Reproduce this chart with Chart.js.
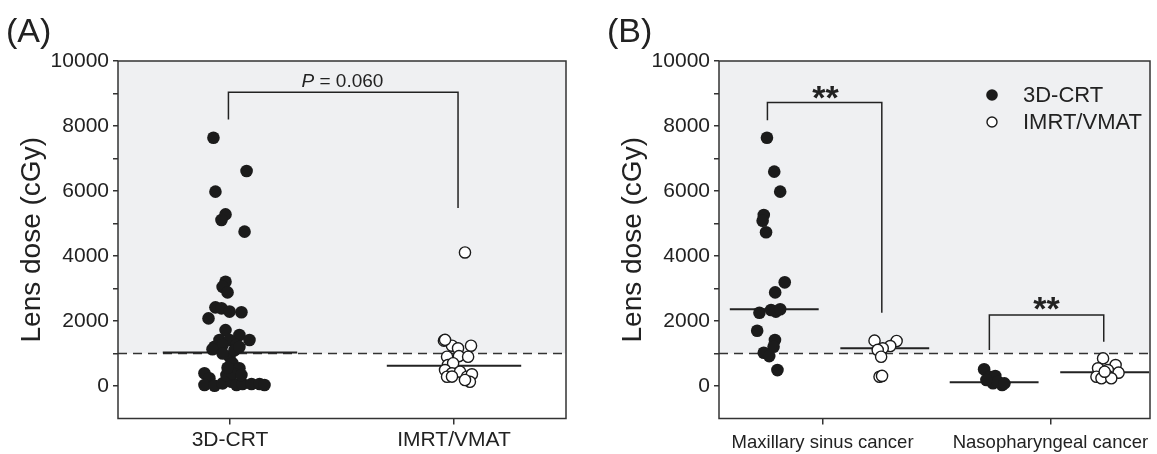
<!DOCTYPE html>
<html>
<head>
<meta charset="utf-8">
<script src="https://cdn.jsdelivr.net/npm/chart.js@4"></script>
<style>
  html, body { margin: 0; padding: 0; background: #fff; }
  #wrap { position: relative; width: 1157px; height: 454px; }
  #chartA { position: absolute; left: 0; top: 0; }
  #chartB { position: absolute; left: 590px; top: 0; }
</style>
</head>
<body>
<div id="wrap">
  <canvas id="chartA" width="590" height="454"></canvas>
  <canvas id="chartB" width="567" height="454"></canvas>
</div>
<script>
// --- DATA ---
const yTicks = [0, 2000, 4000, 6000, 8000, 10000];
const yMinorTicks = [0, 1000, 2000, 3000, 4000, 5000, 6000, 7000, 8000, 9000, 10000];
const cutoffDose = 1000;

// (A) all patients, x = category + jitter
const groupsA = ['3D-CRT', 'IMRT/VMAT'];
const crtDoseA = [7640, 6615, 5980, 5280, 5110, 4750, 3210, 3050, 2880, 2420, 2390, 2290, 2270, 2080, 1720,
  1570, 1415, 1415, 1415, 1210, 1260, 1260, 1130, 900, 1000, 700, 545, 390, 237, 30, 10, 80, 130, 30, 60,
  60, 60, 30, 340, 390, 340, 560, 1100, 1200];
const crtJitterA = [-0.074, 0.074, -0.065, -0.020, -0.038, 0.065, -0.020, -0.033, -0.011, -0.065, -0.038, -0.002, 0.051, -0.096, -0.020,
  0.042, 0.087, -0.047, -0.002, -0.069, -0.033, 0.029, -0.078, -0.002, -0.033, 0.011, 0.042, -0.114, -0.092, -0.114, -0.069, -0.033, 0.007, 0.029, 0.056,
  0.096, 0.132, 0.154, -0.016, 0.011, 0.051, -0.011, 0.020, 0.042];
const imrtDoseA = [4110, 1395, 1240, 1160, 1240, 900, 920, 900, 645, 700, 490, 390, 285, 440, 285, 360, 130, 185, 290, 1420];
const imrtJitterA = [0.049, -0.045, -0.009, 0.018, 0.076, -0.031, 0.022, 0.063, -0.027, -0.004, -0.040, -0.009, -0.031, 0.027, 0.058, 0.080, 0.071, 0.049, -0.009, -0.040];
const mediansA = [1030, 625];
const pValueA = '0.060';

// (B) by cancer site, x = category + offset
const sitesB = ['Maxillary sinus cancer', 'Nasopharyngeal cancer'];
const maxCrtDose = [7640, 6595, 5980, 5260, 5085, 4730, 3190, 2880, 2255, 2340, 2290, 2360, 1700, 1415, 1210, 1025, 920, 490];
const maxCrtX = [-0.244, -0.212, -0.186, -0.258, -0.263, -0.248, -0.166, -0.208, -0.277, -0.226, -0.205, -0.186, -0.287, -0.209, -0.215, -0.258, -0.234, -0.198];
const maxImrtDose = [1395, 1385, 1230, 1160, 1110, 900, 285, 310];
const maxImrtX = [0.228, 0.325, 0.297, 0.264, 0.242, 0.257, 0.250, 0.261];
const nasoCrtDose = [515, 285, 310, 85, 30, 130, 185, 80];
const nasoCrtX = [-0.291, -0.267, -0.242, -0.252, -0.212, -0.231, -0.281, -0.202];
const nasoImrtDose = [850, 545, 645, 490, 285, 310, 410, 237, 237, 440];
const nasoImrtX = [0.231, 0.209, 0.286, 0.252, 0.202, 0.252, 0.299, 0.224, 0.267, 0.238];
const mediansCrtB = [2360, 114];
const mediansImrtB = [1160, 420];
const medianCrtXB = [-0.212, -0.247];
const medianImrtXB = [0.273, 0.238];

// brackets: [xLeft, xRight, leftEnd, top, rightEnd]
const bracketA = [0.993, 2.018, 8200, 9040, 5480];
const bracketsB = [[0.758, 1.260, 8180, 8720, 2255], [1.732, 2.234, 1108, 2185, 1363]];

// --- HELPERS ---
const font = "'Liberation Sans', Arial, Helvetica, sans-serif";
const ink = '#222';

function pts(base, offsets, doses) {
  return doses.map((d, i) => ({ x: base + offsets[i], y: d }));
}
function dots(data, open) {
  return {
    type: 'scatter', data, order: 0,
    pointRadius: open ? 5.6 : 6.3, pointHoverRadius: open ? 5.6 : 6.3,
    pointBorderWidth: open ? 1.4 : 0,
    backgroundColor: open ? '#fff' : '#1b1b1b', borderColor: '#1b1b1b'
  };
}
function line(data, width, dash, order) {
  return {
    type: 'line', data, order, showLine: true, pointRadius: 0, fill: false,
    borderColor: dash ? '#333' : ink, borderWidth: width, borderDash: dash || [], tension: 0
  };
}
function median(cx, half, v) { return line([{ x: cx - half, y: v }, { x: cx + half, y: v }], 2, null, 1); }
function bracket(b) {
  return line([{ x: b[0], y: b[2] }, { x: b[0], y: b[3] }, { x: b[1], y: b[3] }, { x: b[1], y: b[4] }], 1.5, null, 2);
}

function makeScales(xMin, xMax, labels, xFont, xPad, yWidth, titlePad) {
  return {
    x: {
      type: 'linear', min: xMin, max: xMax,
      afterBuildTicks: s => { s.ticks = labels.map((_, i) => ({ value: i + 1 })); },
      afterFit: s => { s.height = 35.5; },
      ticks: { callback: v => labels[v - 1], font: { family: font, size: xFont }, color: ink, padding: xPad, maxRotation: 0, autoSkip: false },
      grid: { drawOnChartArea: false, tickLength: 6, color: '#333', lineWidth: 1.5 },
      border: { display: false }
    },
    y: {
      type: 'linear', min: -1000, max: 10000,
      afterBuildTicks: s => { s.ticks = yMinorTicks.map(v => ({ value: v })); },
      afterFit: s => { s.width = yWidth; },
      ticks: { callback: v => yTicks.includes(v) ? String(v) : '', font: { family: font, size: 21 }, color: ink, padding: 4, autoSkip: false },
      grid: { drawOnChartArea: false, tickLength: 5, color: '#333', lineWidth: 1.5 },
      border: { display: false },
      title: { display: true, text: 'Lens dose (cGy)', font: { family: font, size: 28, lineHeight: 1.2 }, color: ink, padding: { top: titlePad, bottom: 0 } }
    }
  };
}

// shaded region above the cutoff, frame, panel tag, notes, legend
const panelPlugin = {
  id: 'panel',
  beforeDatasetsDraw(chart) {
    const { ctx, chartArea: a, scales: { y } } = chart;
    const yc = y.getPixelForValue(cutoffDose);
    ctx.save();
    ctx.fillStyle = '#eff0f2';
    ctx.fillRect(a.left, a.top, a.right - a.left, yc - a.top);
    ctx.restore();
  },
  afterDraw(chart, args, o) {
    const { ctx, chartArea: a, scales: { x, y } } = chart;
    ctx.save();
    ctx.strokeStyle = '#333';
    ctx.lineWidth = 1.5;
    ctx.strokeRect(a.left, a.top, a.right - a.left, a.bottom - a.top);
    ctx.fillStyle = ink;
    ctx.textBaseline = 'alphabetic';
    ctx.textAlign = 'left';
    ctx.font = `34px ${font}`;
    ctx.fillText(o.tag, o.tagX, 42);

    if (o.pNote) {
      const n = o.pNote;
      ctx.font = `italic 19px ${font}`;
      const w1 = ctx.measureText('P').width;
      ctx.font = `19px ${font}`;
      const rest = ' = ' + n.text;
      const w2 = ctx.measureText(rest).width;
      const sx = x.getPixelForValue(n.x) - (w1 + w2) / 2;
      const sy = y.getPixelForValue(n.y);
      ctx.font = `italic 19px ${font}`;
      ctx.fillText('P', sx, sy);
      ctx.font = `19px ${font}`;
      ctx.fillText(rest, sx + w1, sy);
    }
    (o.stars || []).forEach(s => {
      ctx.font = `bold 34px ${font}`;
      ctx.textAlign = 'center';
      ctx.fillText('**', x.getPixelForValue(s.x), y.getPixelForValue(s.y));
    });
    if (o.legend) {
      const lx = a.left + 273;
      ctx.font = `22px ${font}`;
      ctx.textAlign = 'left';
      ctx.textBaseline = 'middle';
      o.legend.forEach((lab, i) => {
        const ly = 95 + i * 27;
        ctx.beginPath();
        ctx.arc(lx, ly, i === 0 ? 5.8 : 5, 0, Math.PI * 2);
        ctx.fillStyle = i === 0 ? '#1b1b1b' : '#fff';
        ctx.fill();
        if (i === 1) { ctx.lineWidth = 1.4; ctx.strokeStyle = '#1b1b1b'; ctx.stroke(); }
        ctx.fillStyle = ink;
        ctx.fillText(lab, lx + 31, ly + 1);
      });
    }
    ctx.restore();
  }
};

const baseOptions = {
  responsive: false,
  animation: false,
  plugins: { legend: { display: false }, tooltip: { enabled: false } }
};

// --- PANEL A ---
new Chart(document.getElementById('chartA'), {
  type: 'scatter',
  data: {
    datasets: [
      dots(pts(1, crtJitterA, crtDoseA), false),
      dots(pts(2, imrtJitterA, imrtDoseA), true),
      median(1, 0.30, mediansA[0]),
      median(2, 0.30, mediansA[1]),
      bracket(bracketA),
      line([{ x: 0.5, y: cutoffDose }, { x: 2.5, y: cutoffDose }], 1.5, [9, 6], 3)
    ]
  },
  options: {
    ...baseOptions,
    layout: { padding: { top: 61, right: 24, bottom: 0, left: 0 } },
    scales: makeScales(0.5, 2.5, groupsA, 21, 3, 118, 15),
    plugins: { ...baseOptions.plugins, panel: { tag: '(A)', tagX: 6, pNote: { x: 1.502, y: 9190, text: pValueA } } }
  },
  plugins: [panelPlugin]
});

// --- PANEL B ---
const xMinB = 0.5455, xMaxB = 2.437;
new Chart(document.getElementById('chartB'), {
  type: 'scatter',
  data: {
    datasets: [
      dots(pts(1, maxCrtX, maxCrtDose).concat(pts(2, nasoCrtX, nasoCrtDose)), false),
      dots(pts(1, maxImrtX, maxImrtDose).concat(pts(2, nasoImrtX, nasoImrtDose)), true),
      ...mediansCrtB.map((v, i) => median(i + 1 + medianCrtXB[i], 0.195, v)),
      ...mediansImrtB.map((v, i) => median(i + 1 + medianImrtXB[i], 0.195, v)),
      ...bracketsB.map(bracket),
      line([{ x: xMinB, y: cutoffDose }, { x: xMaxB, y: cutoffDose }], 1.5, [9, 6], 3)
    ]
  },
  options: {
    ...baseOptions,
    layout: { padding: { top: 61, right: 1, bottom: 0, left: 0 } },
    scales: makeScales(xMinB, xMaxB, sitesB, 18.5, 7, 129, 26),
    plugins: {
      ...baseOptions.plugins,
      panel: {
        tag: '(B)', tagX: 17,
        stars: [{ x: 1.013, y: 8520 }, { x: 1.983, y: 2030 }],
        legend: ['3D-CRT', 'IMRT/VMAT']
      }
    }
  },
  plugins: [panelPlugin]
});
</script>
</body>
</html>
